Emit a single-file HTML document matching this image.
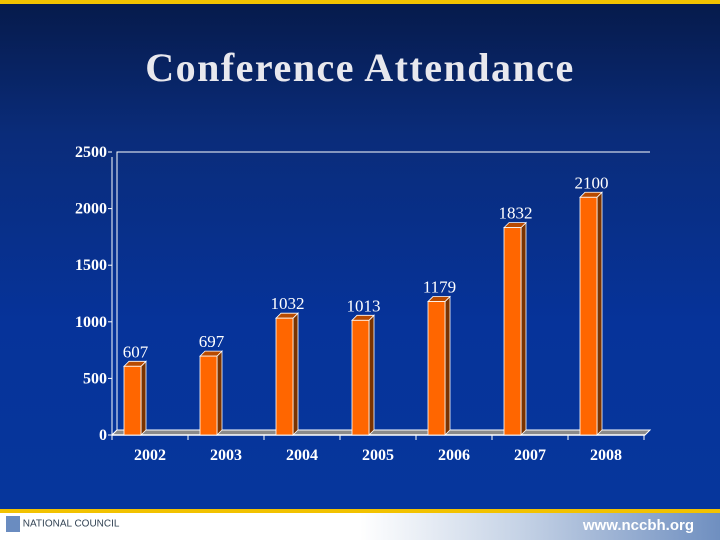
<!DOCTYPE html>
<html><head><meta charset="utf-8"><style>
html,body{margin:0;padding:0;}
body{width:720px;height:540px;overflow:hidden;position:relative;font-family:"Liberation Serif",serif;
background:linear-gradient(180deg,#061a4a 0%,#0a2c7a 25%,#06339a 60%,#06379c 100%);}
#topbar{position:absolute;left:0;top:0;width:720px;height:4px;background:#f2c200;}
#title{position:absolute;left:0;top:44px;width:720px;text-align:center;color:#e8e8ee;font-size:40px;font-weight:bold;letter-spacing:1.5px;}
#footer-line{position:absolute;left:0;top:509px;width:720px;height:4px;background:#f2c200;}
#footer{position:absolute;left:0;top:513px;width:720px;height:27px;background:linear-gradient(90deg,#fff 0%,#fff 50%,#c6d3e6 72%,#6f8fc0 100%);}
#url{position:absolute;right:26px;top:4px;color:#fff;font-family:"Liberation Sans",sans-serif;font-size:15px;font-weight:bold;}
#logo{position:absolute;left:6px;top:3px;font-family:"Liberation Sans",sans-serif;font-size:10px;color:#345;}
svg{position:absolute;left:0;top:0;}
</style></head><body>
<div id="topbar"></div>
<div id="title">Conference Attendance</div>
<svg id="chart" width="720" height="540"></svg>
<div id="footer-line"></div>
<div id="footer">
<div id="logo"><span style="display:inline-block;width:14px;height:16px;background:#6a8cc0;vertical-align:middle"></span> NATIONAL COUNCIL</div>
<div id="url">www.nccbh.org</div>
</div>
<script>
const categories=["2002","2003","2004","2005","2006","2007","2008"];
const values=[607,697,1032,1013,1179,1832,2100];
const yTicks=[0,500,1000,1500,2000,2500];
const NS="http://www.w3.org/2000/svg";
const svg=document.getElementById('chart');
const x0=112,catW=76,y0=435,pxPerUnit=283/2500,D=5;
function yScale(v){return y0-v*pxPerUnit;}
function xCat(i){return x0+i*catW;}
function mk(t,a){const e=document.createElementNS(NS,t);for(const k in a)e.setAttribute(k,a[k]);svg.appendChild(e);return e;}
let e=mk('polyline',{points:`${x0},${y0} ${x0+D},${y0-D} ${x0+D},${yScale(2500)} ${650},${yScale(2500)}`,fill:'none',stroke:'#fff','stroke-width':1});

e=mk('polygon',{points:`${x0},${y0} ${x0+D},${y0-D} ${650},${y0-D} ${645},${y0}`,fill:'#8a8a8a',stroke:'#fff','stroke-width':1});

e=mk('line',{x1:x0,y1:y0,x2:645,y2:y0,stroke:'#fff','stroke-width':1.5});

e=mk('line',{x1:x0,y1:y0,x2:x0,y2:yScale(2500)+5,stroke:'#fff','stroke-width':1});

yTicks.forEach(v=>{
 const y=yScale(v);
 let t=mk('line',{x1:x0-4,y1:y,x2:x0,y2:y,stroke:'#fff'});
 
 t=mk('text',{x:x0-5,y:y+5,'text-anchor':'end',fill:'#fff','font-size':16,'font-weight':'bold','font-family':'Liberation Serif, serif'});
 t.textContent=v;
 
});
for(let i=0;i<=categories.length;i++){
 let t=mk('line',{x1:xCat(i),y1:y0,x2:xCat(i),y2:y0+5,stroke:'#fff'});
 
}
categories.forEach((c,i)=>{
 const xl=xCat(i)+12,w=17,yt=yScale(values[i]);
 let s=mk('polygon',{points:`${xl+w},${y0} ${xl+w+D},${y0-D} ${xl+w+D},${yt-D} ${xl+w},${yt}`,fill:'#7a3300',stroke:'#fff','stroke-width':0.8});
 
 s=mk('polygon',{points:`${xl},${yt} ${xl+D},${yt-D} ${xl+w+D},${yt-D} ${xl+w},${yt}`,fill:'#b84a00',stroke:'#fff','stroke-width':0.8});
 
 s=mk('rect',{x:xl,y:yt,width:w,height:y0-yt,fill:'#ff6600',stroke:'#fff','stroke-width':0.8});
 
 let t=mk('text',{x:xl+w/2+3,y:yt-9,'text-anchor':'middle',fill:'#fff','font-size':17,'font-family':'Liberation Serif, serif'});
 t.textContent=values[i];
 
 t=mk('text',{x:xCat(i)+catW/2,y:y0+25,'text-anchor':'middle',fill:'#fff','font-size':16,'font-weight':'bold','font-family':'Liberation Serif, serif'});
 t.textContent=c;
 
});
</script>
</body></html>
